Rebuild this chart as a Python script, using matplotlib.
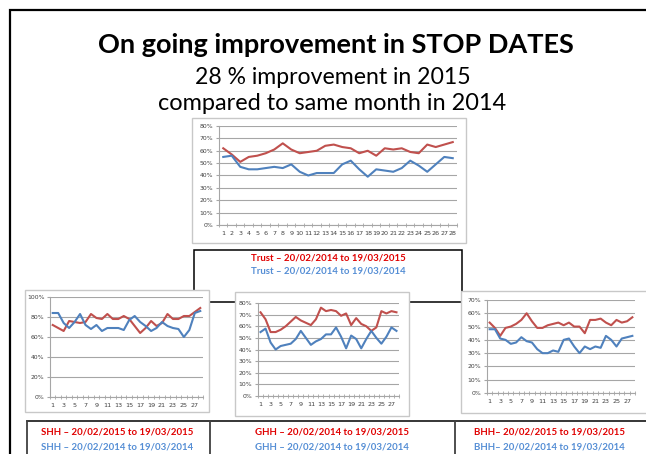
import matplotlib
matplotlib.use("Agg")
import matplotlib.pyplot as plt
from matplotlib.patches import Rectangle
from matplotlib.ticker import FuncFormatter, MultipleLocator, FixedLocator

W, H = 646, 454
days = list(range(1, 29))

trust_2015 = [62, 57, 51, 55, 56, 58, 61, 66, 61, 58, 59, 60, 64, 65, 63, 62, 58, 60, 56, 62, 61, 62, 59, 58, 65, 63, 65, 67]
trust_2014 = [55, 56, 47, 45, 45, 46, 47, 46, 49, 43, 40, 42, 42, 42, 49, 52, 45, 39, 45, 44, 43, 46, 52, 48, 43, 49, 55, 54]

shh_2015 = [72, 69, 66, 76, 75, 74, 75, 83, 79, 78, 83, 78, 78, 81, 78, 71, 64, 69, 76, 71, 74, 83, 78, 78, 81, 81, 85, 89]
shh_2014 = [84, 84, 74, 69, 75, 83, 72, 68, 72, 66, 69, 69, 69, 67, 77, 81, 75, 71, 66, 69, 75, 71, 69, 68, 60, 67, 84, 86]

ghh_2015 = [72, 66, 55, 55, 57, 60, 64, 68, 65, 63, 61, 66, 76, 73, 74, 73, 69, 71, 61, 67, 62, 60, 56, 59, 73, 71, 73, 72]
ghh_2014 = [55, 58, 46, 40, 43, 44, 45, 49, 56, 50, 44, 47, 49, 53, 53, 59, 51, 41, 52, 49, 41, 49, 56, 50, 45, 51, 59, 56]

bhh_2015 = [53, 49, 43, 49, 50, 52, 55, 60, 54, 49, 49, 51, 52, 53, 51, 53, 50, 50, 45, 55, 55, 56, 53, 51, 55, 53, 54, 57]
bhh_2014 = [48, 48, 41, 40, 37, 38, 42, 39, 38, 33, 30, 30, 32, 31, 40, 41, 35, 30, 35, 33, 35, 34, 43, 40, 35, 41, 42, 43]

title = "On going improvement in STOP DATES"
subtitle1 = "28 % improvement in 2015"
subtitle2 = "compared to same month in 2014"
trust_leg = ["Trust \u2013 20/02/2014 to 19/03/2015", "Trust \u2013 20/02/2014 to 19/03/2014"]
shh_leg = ["SHH \u2013 20/02/2015 to 19/03/2015", "SHH \u2013 20/02/2014 to 19/03/2014"]
ghh_leg = ["GHH \u2013 20/02/2014 to 19/03/2015", "GHH \u2013 20/02/2014 to 19/03/2014"]
bhh_leg = ["BHH\u2013 20/02/2015 to 19/03/2015", "BHH\u2013 20/02/2014 to 19/03/2014"]

RED = "#C0504D"
BLUE = "#4F81BD"
TXT_RED = "#E00000"
TXT_BLUE = "#558ED5"
FONT = "Lato"

fig = plt.figure(figsize=(W / 100, H / 100), dpi=100)
fig.patch.set_facecolor("white")

bg = fig.add_axes([0, 0, 1, 1], zorder=0)
bg.set_xlim(0, W)
bg.set_ylim(H, 0)
bg.axis("off")

# outer slide frame
bg.plot([10, 10, W], [H, 10, 10], color="black", lw=1.6, zorder=1, solid_joinstyle="miter")

# titles
bg.text(336, 45, title, ha="center", va="center", fontsize=19.5, fontweight="bold", family=FONT, zorder=5)
bg.text(333, 78, subtitle1, ha="center", va="center", fontsize=16.6, family=FONT, zorder=5)
bg.text(332, 103, subtitle2, ha="center", va="center", fontsize=16.9, family=FONT, zorder=5)

# trust legend box
bg.add_patch(Rectangle((194, 250), 268, 52, fill=False, ec="black", lw=1.1, zorder=1))
bg.text(328, 258, trust_leg[0], ha="center", va="center", fontsize=6.9, fontweight="bold", color=TXT_RED, family=FONT, zorder=5)
bg.text(328, 271, trust_leg[1], ha="center", va="center", fontsize=6.9, fontweight="bold", color=TXT_BLUE, family=FONT, zorder=5)

# bottom table
bg.plot([27, W], [421, 421], color="black", lw=1.1, zorder=1)
for xv in (27, 210, 455):
    bg.plot([xv, xv], [421, H], color="#404040", lw=1.3, zorder=1)
for cx, leg in ((117, shh_leg), (332, ghh_leg), (549, bhh_leg)):
    bg.text(cx, 432, leg[0], ha="center", va="center", fontsize=6.9, fontweight="bold", color=TXT_RED, family=FONT, zorder=5)
    bg.text(cx, 447, leg[1], ha="center", va="center", fontsize=6.9, fontweight="bold", color=TXT_BLUE, family=FONT, zorder=5)

# chart image frames
frames = [(192, 118, 466, 243), (25, 290, 209, 412), (235, 292, 409, 416), (461, 291, 650, 413)]
for (x0, y0, x1, y1) in frames:
    bg.add_patch(Rectangle((x0, y0), x1 - x0, y1 - y0, fc="white", ec="#C8C8C8", lw=1.0, zorder=3))


def make_chart(box, s2015, s2014, ymax, ystep, all_labels):
    x0, y0, x1, y1 = box
    ax = fig.add_axes([x0 / W, 1 - y1 / H, (x1 - x0) / W, (y1 - y0) / H], zorder=2)
    ax.patch.set_alpha(0)
    ax.plot(days, s2015, color=RED, lw=1.5, zorder=3)
    ax.plot(days, s2014, color=BLUE, lw=1.5, zorder=3)
    ax.set_xlim(0.5, 28.5)
    ax.set_ylim(0, ymax)
    ax.yaxis.set_major_locator(MultipleLocator(ystep))
    ax.yaxis.set_major_formatter(FuncFormatter(lambda v, p: f"{int(round(v))}%"))
    ax.grid(axis="y", color="#A6A6A6", lw=0.8)
    ax.set_axisbelow(True)
    for s in ("top", "right"):
        ax.spines[s].set_visible(False)
    ax.spines["left"].set_color("#A6A6A6")
    ax.spines["bottom"].set_color("#A6A6A6")
    if all_labels:
        ax.set_xticks(days)
        ax.set_xticklabels([str(d) for d in days])
    else:
        ax.set_xticks(days[::2])
        ax.set_xticklabels([str(d) for d in days[::2]])
    ax.xaxis.set_minor_locator(FixedLocator([d + 0.5 for d in range(0, 29)]))
    ax.tick_params(axis="x", which="major", length=0, labelsize=4.6, labelcolor="#404040", pad=4)
    ax.tick_params(axis="x", which="minor", length=2.5, color="#A6A6A6", direction="inout")
    ax.tick_params(axis="y", length=2, color="#A6A6A6", labelsize=4.4, labelcolor="#404040", pad=2)
    return ax


make_chart((219, 126, 457, 225), trust_2015, trust_2014, 80, 10, True)
make_chart((50, 297, 203, 397), shh_2015, shh_2014, 100, 20, False)
make_chart((258, 303, 399, 396), ghh_2015, ghh_2014, 80, 10, False)
make_chart((487, 300, 635, 393), bhh_2015, bhh_2014, 70, 10, False)

fig.savefig("out.png", dpi=100)
